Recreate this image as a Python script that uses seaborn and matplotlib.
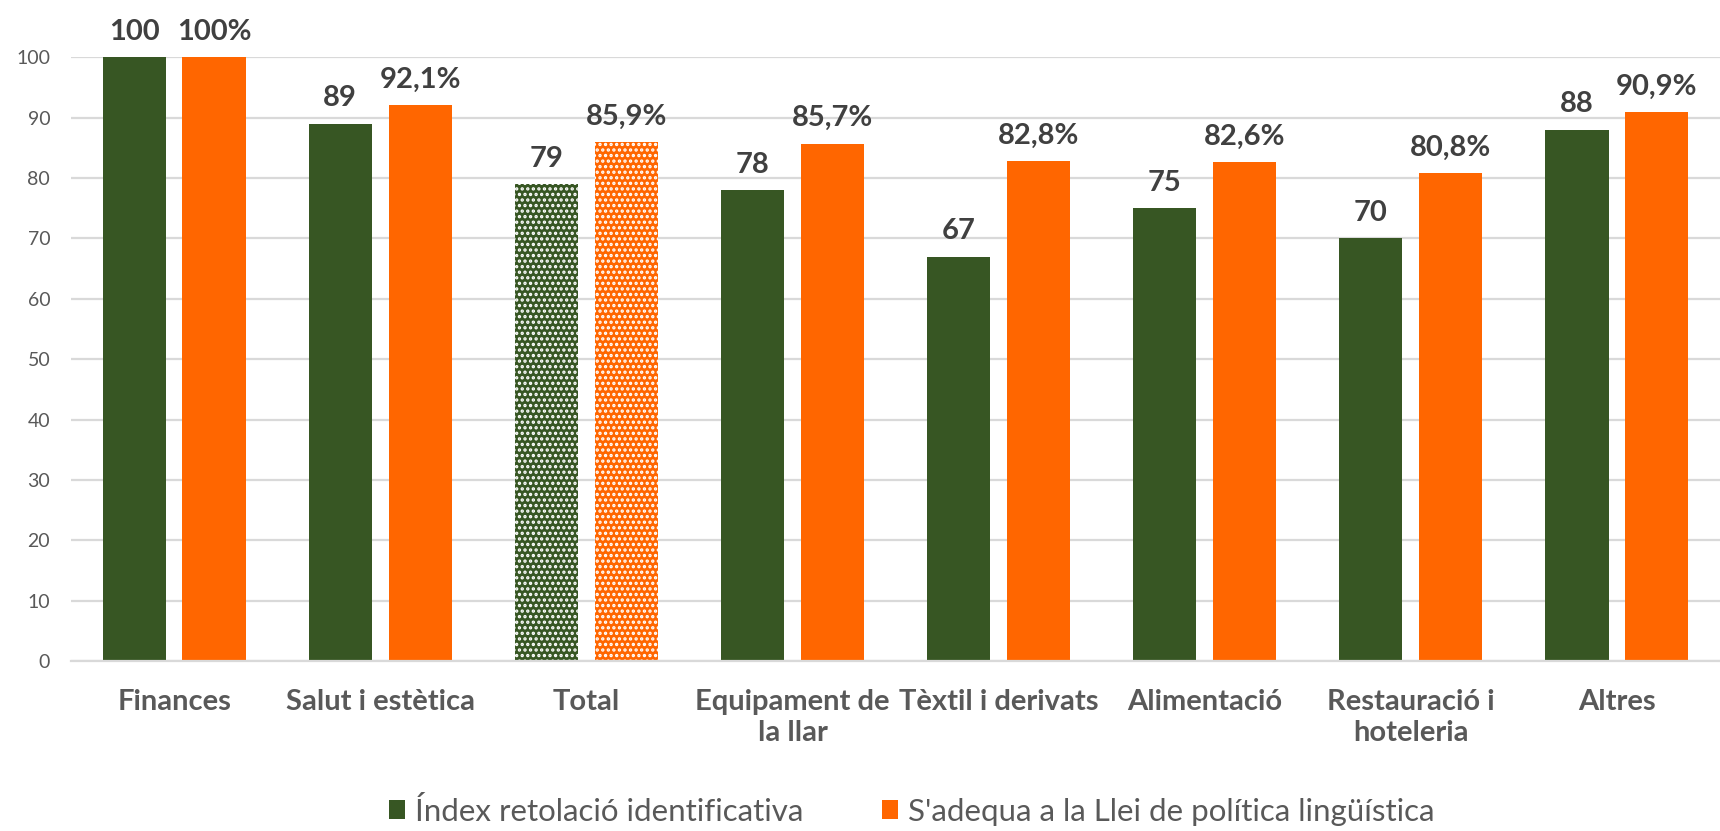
import pandas as pd
import matplotlib.pyplot as plt
import seaborn as sns

# Sectors and the two series
categories = ['Finances', 'Salut i estètica', 'Total', 'Equipament de\nla llar',
              'Tèxtil i derivats', 'Alimentació', 'Restauració i\nhoteleria', 'Altres']
series_names = ['Índex retolació identificativa',
                "S'adequa a la Llei de política lingüística"]
index_retolacio = [100, 89, 79, 78, 67, 75, 70, 88]
adequa_llei = [100, 92.1, 85.9, 85.7, 82.8, 82.6, 80.8, 90.9]
index_labels = ['100', '89', '79', '78', '67', '75', '70', '88']
adequa_labels = ['100%', '92,1%', '85,9%', '85,7%', '82,8%', '82,6%', '80,8%', '90,9%']
y_ticks = [0, 10, 20, 30, 40, 50, 60, 70, 80, 90, 100]

GREEN = '#375623'
ORANGE = '#ff6600'
GRID = '#d9d9d9'

df = pd.DataFrame({
    'Sector': categories * 2,
    'Serie': [series_names[0]] * len(categories) + [series_names[1]] * len(categories),
    'Valor': index_retolacio + adequa_llei,
})

sns.set_style('white')
plt.rcParams['font.family'] = ['Lato', 'DejaVu Sans']
plt.rcParams['hatch.linewidth'] = 1.6

fig = plt.figure(figsize=(17.2, 8.31), dpi=100)
ax = fig.add_axes([0.0413, 0.2046, 0.9587, 0.7264])

sns.barplot(data=df, x='Sector', y='Valor', hue='Serie', order=categories,
            hue_order=series_names, palette=[GREEN, ORANGE],
            width=0.775, gap=0.21, ax=ax, saturation=1, linewidth=0)

# Dotted pattern on the "Total" bars
total_idx = categories.index('Total')
for cont in ax.containers:
    bar = cont[total_idx]
    bar.set_hatch('...')
    bar.set_edgecolor('white')
    bar.set_linewidth(0)

# Data labels
for cont, labels in zip(ax.containers, [index_labels, adequa_labels]):
    ax.bar_label(cont, labels=labels, padding=9, fontsize=21, fontweight='bold',
                 color='#404040', clip_on=False)

ax.set_ylim(0, 100)
ax.set_yticks(y_ticks)
ax.yaxis.grid(True, color=GRID, linewidth=1.6)
ax.set_axisbelow(True)
for side in ['top', 'right', 'left']:
    ax.spines[side].set_visible(False)
ax.spines['bottom'].set_color(GRID)
ax.spines['bottom'].set_linewidth(1.6)
ax.tick_params(axis='y', length=0, pad=15, labelsize=14, labelcolor='#595959')
ax.tick_params(axis='x', length=0, pad=20, labelsize=21, labelcolor='#595959')
for lbl in ax.get_xticklabels():
    lbl.set_fontweight('bold')
    lbl.set_linespacing(1.25)
ax.set_xlabel('')
ax.set_ylabel('')

sns.move_legend(ax, 'center', bbox_to_anchor=(0.53, 0.024), bbox_transform=fig.transFigure,
                ncol=2, frameon=False, title=None, fontsize=22.5,
                handlelength=0.52, handleheight=0.52, handletextpad=0.32,
                columnspacing=2.5, borderpad=0)
for t in ax.get_legend().get_texts():
    t.set_color('#595959')

plt.savefig('out.png', dpi=100)
